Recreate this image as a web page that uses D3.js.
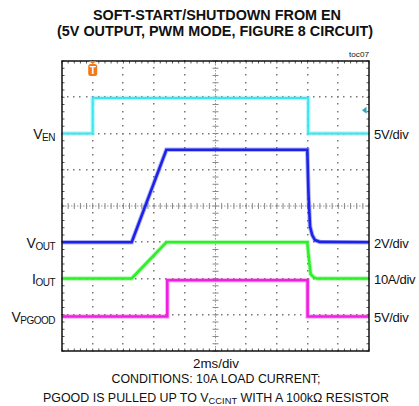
<!DOCTYPE html>
<html>
<head>
<meta charset="utf-8">
<script src="https://cdn.jsdelivr.net/npm/d3@7"></script>
<style>
    body { margin: 0; background: #fff; }
    svg { display: block; }
    text { font-family: 'Liberation Sans Narrow', 'Arial Narrow', 'Liberation Sans', sans-serif; fill: #111; }
</style>
</head>
<body>
<div id="chart"></div>
<script>
// Scope settings: 2ms/div, 10 x 8 divisions, trigger one division in
const timeDomain = [-2, 18];
const divCount = [10, 8];

// Channel settings
const channelPrefix = ["V", "V", "I", "V"];
const channelSub = ["EN", "OUT", "OUT", "PGOOD"];
const channelScaleLabel = ["5V/div", "2V/div", "10A/div", "5V/div"];
const channelPerDiv = [5, 2, 10, 5];
const channelOffsetDiv = [6, 3, 2, 0.95];

// Traces (time in ms, value in V or A)
const enTime = [-2, 0, 0, 14.04, 14.04, 18];
const enVolts = [0, 0, 4.9, 4.9, 0, 0];
const voutTime = [-2, 2.54, 4.8, 13.98, 14.06, 14.16, 14.3, 14.48, 14.8, 18];
const voutVolts = [0, 0, 5.1, 5.1, 2.6, 0.86, 0.4, 0.12, 0.02, 0];
const ioutTime = [-2, 2.54, 4.8, 13.98, 14.06, 14.2, 14.4, 14.6, 18];
const ioutAmps = [0, 0, 10, 10, 6.5, 1.2, 0.3, 0, 0];
const pgoodTime = [-2, 4.86, 4.86, 14.0, 14.0, 18];
const pgoodVolts = [0, 0, 5, 5, 0, 0];

// Markers
const triggerTime = 0;
const triggerLevel = 3.2; // on EN channel

const traceColors = ["#3ee4f0", "#1c22e6", "#2ef02a", "#f020e2"];

const width = 419, height = 406;
const plot = { left: 62, right: 369, top: 61, bottom: 351 };

const svg = d3.select("#chart").append("svg")
    .attr("width", width)
    .attr("height", height);

const x = d3.scaleLinear().domain(timeDomain).range([plot.left, plot.right]);
const xDiv = d3.scaleLinear().domain([0, divCount[0]]).range([plot.left, plot.right]);
const yDiv = d3.scaleLinear().domain([0, divCount[1]]).range([plot.bottom, plot.top]);

// Titles
svg.append("text")
    .attr("x", 217).attr("y", 20)
    .attr("text-anchor", "middle")
    .attr("textLength", 248).attr("lengthAdjust", "spacingAndGlyphs")
    .style("font-size", "15px").style("font-weight", "bold")
    .text("SOFT-START/SHUTDOWN FROM EN");
svg.append("text")
    .attr("x", 215).attr("y", 36)
    .attr("text-anchor", "middle")
    .attr("textLength", 316).attr("lengthAdjust", "spacingAndGlyphs")
    .style("font-size", "15px").style("font-weight", "bold")
    .text("(5V OUTPUT, PWM MODE, FIGURE 8 CIRCUIT)");
svg.append("text")
    .attr("x", 369).attr("y", 57)
    .attr("text-anchor", "end")
    .attr("textLength", 20).attr("lengthAdjust", "spacingAndGlyphs")
    .style("font-size", "8px")
    .text("toc07");

// Grid dots
const grid = svg.append("g");
const subX = d3.range(0, divCount[0] + 0.001, 0.2);
const subY = d3.range(0, divCount[1] + 0.001, 0.2);
d3.range(1, divCount[0]).filter(i => i !== 5).forEach(i => {
    grid.selectAll(null).data(subY).enter().append("rect")
        .attr("x", Math.round(xDiv(i)) - 1).attr("y", d => Math.round(yDiv(d)) - 1)
        .attr("width", 1.5).attr("height", 1.5)
        .attr("fill", "#777");
});
d3.range(1, divCount[1]).filter(j => j !== 4).forEach(j => {
    grid.selectAll(null).data(subX).enter().append("rect")
        .attr("x", d => Math.round(xDiv(d)) - 1).attr("y", Math.round(yDiv(j)) - 1)
        .attr("width", 1.5).attr("height", 1.5)
        .attr("fill", "#777");
});

// Center axes with ticks
grid.append("line")
    .attr("x1", plot.left).attr("x2", plot.right)
    .attr("y1", yDiv(4)).attr("y2", yDiv(4))
    .attr("stroke", "#999").attr("stroke-dasharray", "1.5,1.5");
grid.append("line")
    .attr("x1", xDiv(5)).attr("x2", xDiv(5))
    .attr("y1", plot.top).attr("y2", plot.bottom)
    .attr("stroke", "#999").attr("stroke-dasharray", "1.5,1.5");
grid.selectAll(null).data(subX).enter().append("line")
    .attr("x1", d => xDiv(d)).attr("x2", d => xDiv(d))
    .attr("y1", yDiv(4) - 3).attr("y2", yDiv(4) + 3)
    .attr("stroke", "#888");
grid.selectAll(null).data(subY).enter().append("line")
    .attr("x1", xDiv(5) - 3).attr("x2", xDiv(5) + 3)
    .attr("y1", d => yDiv(d)).attr("y2", d => yDiv(d))
    .attr("stroke", "#888");

// Frame ticks
grid.selectAll(null).data(subX).enter().append("path")
    .attr("d", d => `M${xDiv(d)},${plot.top}v2.5M${xDiv(d)},${plot.bottom}v-2.5`)
    .attr("stroke", "#555");
grid.selectAll(null).data(subY).enter().append("path")
    .attr("d", d => `M${plot.left},${yDiv(d)}h2.5M${plot.right},${yDiv(d)}h-2.5`)
    .attr("stroke", "#555");

// Traces
const traces = [
    [enTime, enVolts],
    [voutTime, voutVolts],
    [ioutTime, ioutAmps],
    [pgoodTime, pgoodVolts]
];

function traceY(ch, v) {
    return yDiv(channelOffsetDiv[ch] + v / channelPerDiv[ch]);
}

traces.forEach(([times, values], ch) => {
    const pts = times.map((t, i) => [t, values[i]]);
    const line = d3.line()
        .x(d => x(d[0]))
        .y(d => traceY(ch, d[1]));
    // soft noisy halo
    svg.append("path")
        .attr("d", line(pts))
        .attr("fill", "none")
        .attr("stroke", traceColors[ch])
        .attr("stroke-opacity", 0.35)
        .attr("stroke-width", 4.5);
    svg.append("path")
        .attr("d", line(pts))
        .attr("fill", "none")
        .attr("stroke", traceColors[ch])
        .attr("stroke-width", ch === 0 ? 2 : 2.6);
});

// Frame
svg.append("rect")
    .attr("x", plot.left).attr("y", plot.top)
    .attr("width", plot.right - plot.left)
    .attr("height", plot.bottom - plot.top)
    .attr("fill", "none")
    .attr("stroke", "#111")
    .attr("stroke-width", 1.5);

// Trigger marker
const tx = x(triggerTime);
const trig = svg.append("g").attr("transform", `translate(${tx},${plot.top})`);
trig.append("path").attr("d", "M-4,0h8l-4,3z").attr("fill", "#f07a1a");
trig.append("rect")
    .attr("x", -4.5).attr("y", 3).attr("width", 9).attr("height", 12).attr("rx", 2.5)
    .attr("fill", "#f07a1a");
trig.append("text")
    .attr("x", 0).attr("y", 13)
    .attr("text-anchor", "middle")
    .style("font-size", "10px").style("font-weight", "bold")
    .style("fill", "#fff")
    .text("T");

// Trigger level marker
svg.append("path")
    .attr("d", `M${plot.right - 7},${traceY(0, triggerLevel)}l4.5,-3.5v7z`)
    .attr("fill", "#2aa8b8");

// Channel labels
channelPrefix.forEach((p, ch) => {
    const yBase = traceY(ch, 0) + 5.5;
    const lbl = svg.append("text")
        .attr("x", 55).attr("y", yBase)
        .attr("text-anchor", "end")
        .style("font-size", "14px")
        .style("letter-spacing", "-0.5px");
    lbl.append("tspan").text(p);
    lbl.append("tspan")
        .attr("dy", 2)
        .style("font-size", "10px")
        .text(channelSub[ch]);

    svg.append("text")
        .attr("x", 374).attr("y", yBase)
        .style("font-size", "13px")
        .style("letter-spacing", "-0.3px")
        .text(channelScaleLabel[ch]);
});

// Bottom notes
svg.append("text")
    .attr("x", 216).attr("y", 368)
    .attr("text-anchor", "middle")
    .attr("textLength", 46).attr("lengthAdjust", "spacingAndGlyphs")
    .style("font-size", "12px")
    .text("2ms/div");
svg.append("text")
    .attr("x", 216).attr("y", 383)
    .attr("text-anchor", "middle")
    .attr("textLength", 209).attr("lengthAdjust", "spacingAndGlyphs")
    .style("font-size", "12px")
    .text("CONDITIONS: 10A LOAD CURRENT;");
const note = svg.append("text")
    .attr("x", 216).attr("y", 402)
    .attr("text-anchor", "middle")
    .attr("textLength", 346).attr("lengthAdjust", "spacingAndGlyphs")
    .style("font-size", "12px");
note.append("tspan").text("PGOOD IS PULLED UP TO V");
note.append("tspan").attr("dy", 2).style("font-size", "9px").text("CCINT");
note.append("tspan").attr("dy", -2).text(" WITH A 100kΩ RESISTOR");
</script>
</body>
</html>
